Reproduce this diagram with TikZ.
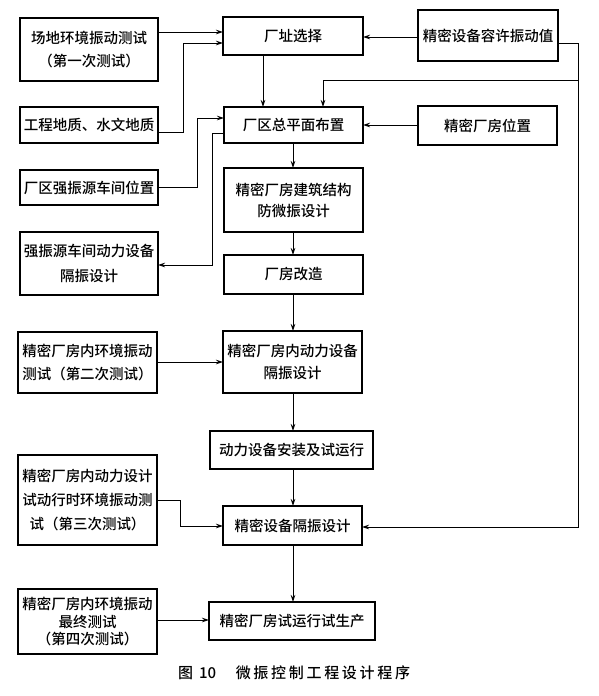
\documentclass[tikz,border=0pt]{standalone}
\usepackage{fontspec}
\setmainfont{Noto Sans CJK SC Medium}
\usetikzlibrary{arrows.meta}
\begin{document}
\begin{tikzpicture}[x=1pt,y=-1pt,
  box/.style={draw,line width=1.4pt,inner sep=0pt,outer sep=0pt,align=center,
    font=\fontsize{14.5}{23}\selectfont},
  arr/.style={line width=0.9pt,-{Stealth[length=7pt,width=4.5pt]}},
  ln/.style={line width=0.9pt}]
\useasboundingbox (0,0) rectangle (599,696);
% left column
\node[box,minimum width=138pt,minimum height=63pt] (L1) at (89,49.5) {场地环境振动测试\\（第一次测试）};
\node[box,minimum width=138pt,minimum height=36pt] (L2) at (89,125) {工程地质、水文地质};
\node[box,minimum width=138pt,minimum height=35pt] (L3) at (89,187.5) {厂区强振源车间位置};
\node[box,minimum width=138pt,minimum height=63pt,font=\fontsize{14.5}{25}\selectfont] (L4) at (89,263.5) {强振源车间动力设备\\隔振设计};
\node[box,minimum width=139pt,minimum height=61pt] (L5) at (87.5,362.5) {精密厂房内环境振动\\测试（第二次测试）};
\node[box,minimum width=139pt,minimum height=90pt,font=\fontsize{14.5}{24}\selectfont] (L6) at (87.5,500) {精密厂房内动力设计\\试动行时环境振动测\\试（第三次测试）};
\node[box,minimum width=139pt,minimum height=65pt,font=\fontsize{14.5}{17.5}\selectfont] (L7) at (87.5,621.5) {精密厂房内环境振动\\最终测试\\（第四次测试）};
% centre column
\node[box,minimum width=140pt,minimum height=38pt] (C1) at (293,36) {厂址选择};
\node[box,minimum width=139pt,minimum height=36pt] (C2) at (293.5,125) {厂区总平面布置};
\node[box,minimum width=139pt,minimum height=64pt,font=\fontsize{14.5}{21}\selectfont] (C3) at (293.5,200) {精密厂房建筑结构\\防微振设计};
\node[box,minimum width=139pt,minimum height=39pt] (C4) at (293.5,274.5) {厂房改造};
\node[box,minimum width=139pt,minimum height=62pt,font=\fontsize{14.5}{22}\selectfont] (C5) at (292.5,362) {精密厂房内动力设备\\隔振设计};
\node[box,minimum width=163pt,minimum height=38pt] (C6) at (291.5,450) {动力设备安装及试运行};
\node[box,minimum width=139pt,minimum height=39pt] (C7) at (292.5,525.5) {精密设备隔振设计};
\node[box,minimum width=166pt,minimum height=38pt] (C8) at (292,621) {精密厂房试运行试生产};
% right column
\node[box,minimum width=140pt,minimum height=51pt] (R1) at (488,35.5) {精密设备容许振动值};
\node[box,minimum width=139pt,minimum height=39pt] (R2) at (487.5,125.5) {精密厂房位置};
% caption
\node[inner sep=0pt,anchor=west,font=\fontsize{15}{18}\selectfont] (cap) at (178,673) {图\hspace{0.4em}10\hspace{1.3em}{\addfontfeature{LetterSpace=18}微振控制工程设计程序}};
% helper coordinates
\coordinate (y32) at (0,32);
\coordinate (y37) at (0,37);
\coordinate (y43) at (0,43);
\coordinate (y132) at (0,132);
\coordinate (y133) at (0,133);
\coordinate (y187) at (0,187);
\coordinate (y362) at (0,362);
\coordinate (y500) at (0,500);
\coordinate (y527) at (0,527);
\coordinate (y620) at (0,620);
\coordinate (x263) at (263,0);
\coordinate (x293) at (293,0);
\coordinate (x323) at (323,0);
\coordinate (j1) at (183,43);
\coordinate (j2) at (197,118);
\coordinate (j3) at (212,265);
\coordinate (j4) at (180,526);
\coordinate (k1) at (578,43);
\coordinate (k2) at (578,527);
\coordinate (k3) at (578,80);
% connectors
\draw[arr] (L1.east |- y32) -- (C1.west |- y32);
\draw[arr] (L2.east |- y132) -| (j1) -- (C1.west |- j1);
\draw[arr] (R1.west |- y37) -- (C1.east |- y37);
\draw[arr] (C1.south -| x263) -- (C2.north -| x263);
\draw[arr] (R1.east |- k1) -- (k1) -- (k2) -- (C7.east |- k2);
\draw[arr] (k3) -| (C2.north -| x323);
\draw[arr] (R2.west |- C2.east) -- (C2.east);
\draw[arr] (L3.east |- y187) -| (j2) -- (C2.west |- j2);
\draw[arr] (C2.west |- y133) -| (j3) -- (L4.east |- j3);
\draw[arr] (C2.south -| x293) -- (C3.north -| x293);
\draw[arr] (C3.south -| x293) -- (C4.north -| x293);
\draw[arr] (C4.south -| x293) -- (C5.north -| x293);
\draw[arr] (C5.south -| x293) -- (C6.north -| x293);
\draw[arr] (C6.south -| x293) -- (C7.north -| x293);
\draw[arr] (C7.south -| x293) -- (C8.north -| x293);
\draw[arr] (L5.east |- y362) -- (C5.west |- y362);
\draw[arr] (L6.east |- y500) -| (j4) -- (C7.west |- j4);
\draw[arr] (L7.east |- y620) -- (C8.west |- y620);
\end{tikzpicture}
\end{document}
